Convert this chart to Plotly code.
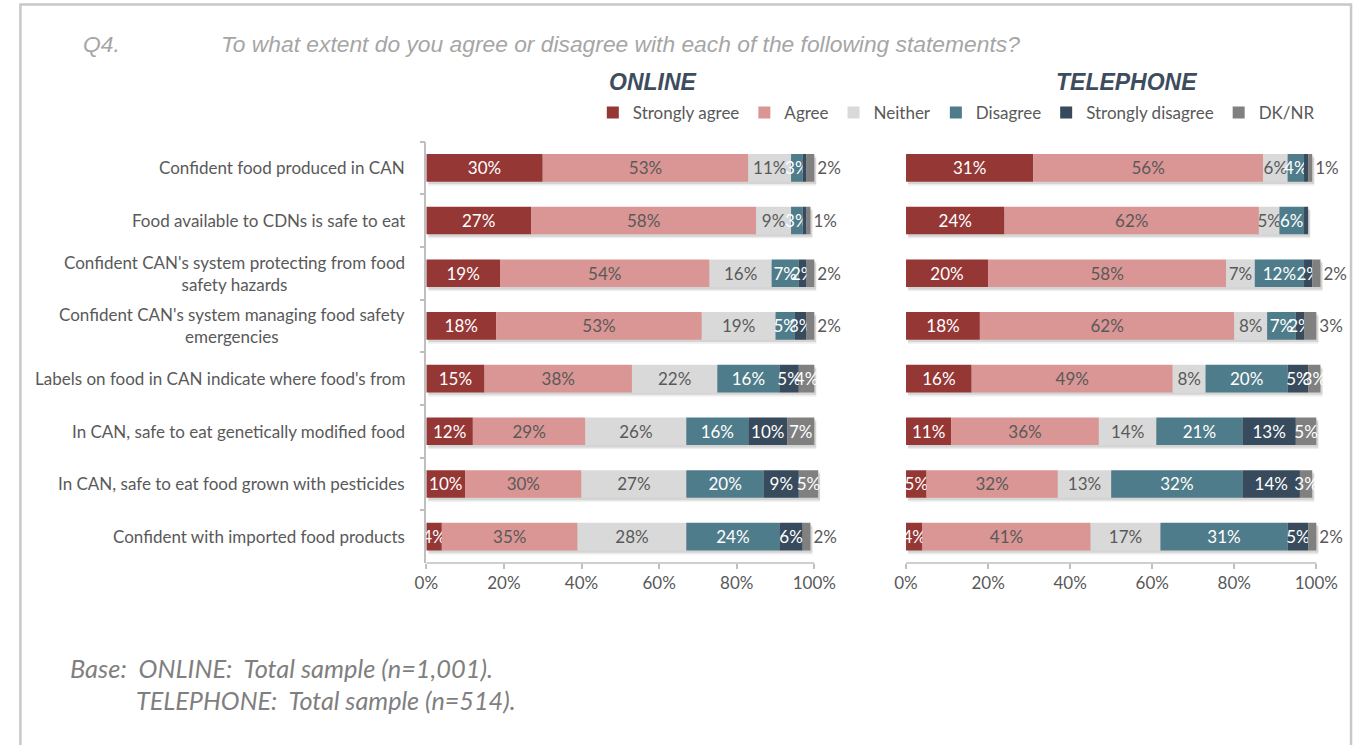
import plotly.graph_objects as go

# Survey statements (top to bottom)
statements = [
    "Confident food produced in CAN",
    "Food available to CDNs is safe to eat",
    "Confident CAN's system protecting from food<br>safety hazards",
    "Confident CAN's system managing food safety<br>emergencies",
    "Labels on food in CAN indicate where food's from",
    "In CAN, safe to eat genetically modified food",
    "In CAN, safe to eat food grown with pesticides",
    "Confident with imported food products",
]

responses = ["Strongly agree", "Agree", "Neither", "Disagree", "Strongly disagree", "DK/NR"]

# ONLINE sample (%)
online_strongly_agree = [30, 27, 19, 18, 15, 12, 10, 4]
online_agree = [53, 58, 54, 53, 38, 29, 30, 35]
online_neither = [11, 9, 16, 19, 22, 26, 27, 28]
online_disagree = [3, 3, 7, 5, 16, 16, 20, 24]
online_strongly_disagree = [1, 1, 2, 3, 5, 10, 9, 6]
online_dknr = [2, 1, 2, 2, 4, 7, 5, 2]

# TELEPHONE sample (%)
phone_strongly_agree = [31, 24, 20, 18, 16, 11, 5, 4]
phone_agree = [56, 62, 58, 62, 49, 36, 32, 41]
phone_neither = [6, 5, 7, 8, 8, 14, 13, 17]
phone_disagree = [4, 6, 12, 7, 20, 21, 32, 31]
phone_strongly_disagree = [1, 1, 2, 2, 5, 13, 14, 5]
phone_dknr = [1, 0, 2, 3, 3, 5, 3, 2]

x_ticks = [0, 20, 40, 60, 80, 100]
x_tick_text = ["0%", "20%", "40%", "60%", "80%", "100%"]

# DK/NR labels written beside the bar end instead of inside it
online_dk_beside = [True, True, True, True, False, False, False, True]
phone_dk_beside = [True, False, True, True, False, False, False, True]

colors = ["#953735", "#d99694", "#d9d9d9", "#4f7c8a", "#374b5c", "#808080"]
label_colors = ["#ffffff", "#595959", "#595959", "#ffffff", "#ffffff", "#ffffff"]

FONT = "Lato"
GREY_TEXT = "#595959"
AXIS_GREY = "#bfbfbf"
BAR_W = 0.525
LABEL_SIZE = 17
X_MAX = 108  # axis runs a little past 100% so labels beside the bars stay in view

W, H = 1355, 745


def px_x(p):
    return p / W


def px_y(p):
    return 1 - p / H


def x_domain(left_px, right100_px):
    # place 0% and 100% at the given pixels; the range continues to X_MAX
    span = (right100_px - left_px) * X_MAX / 100
    return [px_x(left_px), min(1.0, px_x(left_px + span))]


fig = go.Figure()


def add_panel(series, dk_beside, xa, ya, legend):
    n = len(statements)
    totals = [sum(s[i] for s in series) for i in range(n)]
    # soft drop shadow behind each stacked bar
    for dy, alpha in [(0.075, 0.07), (0.045, 0.10)]:
        fig.add_trace(go.Bar(
            y=statements, x=totals, base=[0.5] * n, orientation="h",
            width=BAR_W, offset=-BAR_W / 2 + dy,
            marker=dict(color=f"rgba(0,0,0,{alpha})", line=dict(width=0)),
            hoverinfo="skip", showlegend=False, xaxis=xa, yaxis=ya,
        ))
    base = [0] * n
    for k, (name, vals) in enumerate(zip(responses, series)):
        is_dk = k == len(series) - 1
        texts = []
        positions = []
        for i, v in enumerate(vals):
            if is_dk:
                texts.append(f"{v}%" if v > 0 else "")
                positions.append("outside" if dk_beside[i] else "inside")
            else:
                texts.append(f"{v}%" if v > 1 else "")
                positions.append("inside")
        fig.add_trace(go.Bar(
            y=statements, x=vals, base=list(base), orientation="h",
            name=name, width=BAR_W,
            marker=dict(color=colors[k], line=dict(width=0)),
            text=texts, textposition=positions, textangle=0,
            insidetextanchor="middle", constraintext="none", cliponaxis=False,
            insidetextfont=dict(family=FONT, size=LABEL_SIZE, color=label_colors[k]),
            outsidetextfont=dict(family=FONT, size=LABEL_SIZE, color=GREY_TEXT),
            showlegend=legend, xaxis=xa, yaxis=ya,
            hovertemplate="%{y}: %{x}%<extra>" + name + "</extra>",
        ))
        base = [b + v for b, v in zip(base, vals)]


add_panel([online_strongly_agree, online_agree, online_neither, online_disagree,
           online_strongly_disagree, online_dknr], online_dk_beside, "x", "y", True)
add_panel([phone_strongly_agree, phone_agree, phone_neither, phone_disagree,
           phone_strongly_disagree, phone_dknr], phone_dk_beside, "x2", "y2", False)

Y_TOP, Y_BOTTOM = 141.5, 563
plot_y = [px_y(Y_BOTTOM), px_y(Y_TOP)]

xaxis_common = dict(
    range=[0, X_MAX], tickmode="array", tickvals=x_ticks, ticktext=x_tick_text,
    showgrid=False, zeroline=False, showline=False, ticks="outside", ticklen=5,
    tickcolor=AXIS_GREY, tickwidth=1.5,
    tickfont=dict(family=FONT, size=LABEL_SIZE, color=GREY_TEXT),
    fixedrange=True,
)

fig.update_layout(
    width=W, height=H,
    margin=dict(l=0, r=0, t=0, b=0),
    paper_bgcolor="white", plot_bgcolor="white",
    barmode="overlay",
    uniformtext=dict(minsize=LABEL_SIZE, mode="show"),
    font=dict(family=FONT, color=GREY_TEXT),
    xaxis=dict(domain=x_domain(418, 809.5), anchor="y", **xaxis_common),
    xaxis2=dict(domain=x_domain(902, 1316), anchor="y2", **xaxis_common),
    yaxis=dict(domain=plot_y, anchor="x", autorange="reversed", type="category",
               showline=True, linecolor=AXIS_GREY, linewidth=1.5, ticks="outside",
               ticklen=5, tickcolor=AXIS_GREY, tickwidth=1.5, tickson="boundaries",
               showticklabels=False, showgrid=False, fixedrange=True),
    yaxis2=dict(domain=plot_y, anchor="x2", autorange="reversed", type="category",
                showline=False, ticks="", showticklabels=False, showgrid=False,
                fixedrange=True),
    legend=dict(
        orientation="h", x=px_x(586), y=px_y(95), xanchor="left", yanchor="top",
        font=dict(family=FONT, size=LABEL_SIZE, color=GREY_TEXT),
        itemwidth=30, traceorder="normal", bgcolor="rgba(0,0,0,0)",
    ),
    showlegend=True,
)

# baseline of each percentage axis, from 0% to 100%
for xa in ["x", "x2"]:
    fig.add_shape(type="line", xref=xa, yref="paper", x0=x_ticks[0], x1=x_ticks[-1],
                  y0=px_y(Y_BOTTOM), y1=px_y(Y_BOTTOM),
                  line=dict(color=AXIS_GREY, width=1.5), layer="above")

annotations = []
# statement labels, right-aligned against the online axis
for s in statements:
    annotations.append(dict(
        x=px_x(399), xref="paper", xanchor="right", y=s, yref="y",
        text=s, showarrow=False, align="center",
        font=dict(family=FONT, size=LABEL_SIZE, color=GREY_TEXT),
    ))

annotations += [
    dict(x=px_x(70), y=px_y(44), xref="paper", yref="paper", xanchor="left", yanchor="middle",
         text="<i>Q4.</i>", showarrow=False,
         font=dict(family="Liberation Sans", size=22.8, color="#a6a6a6")),
    dict(x=px_x(209), y=px_y(44), xref="paper", yref="paper", xanchor="left", yanchor="middle",
         text="<i>To what extent do you agree or disagree with each of the following statements?</i>",
         showarrow=False, font=dict(family="Liberation Sans", size=22.8, color="#a6a6a6")),
    dict(x=px_x(647), y=px_y(82), xref="paper", yref="paper", xanchor="center", yanchor="middle",
         text="<b><i>ONLINE</i></b>", showarrow=False,
         font=dict(family="Liberation Sans", size=23, color="#3d4d5e")),
    dict(x=px_x(1124), y=px_y(82), xref="paper", yref="paper", xanchor="center", yanchor="middle",
         text="<b><i>TELEPHONE</i></b>", showarrow=False,
         font=dict(family="Liberation Sans", size=23, color="#3d4d5e")),
    dict(x=px_x(56), y=px_y(668), xref="paper", yref="paper", xanchor="left", yanchor="middle",
         text="<i>Base:&nbsp; ONLINE:&nbsp; Total sample (n=1,001).</i>", showarrow=False,
         font=dict(family=FONT, size=25.4, color="#7f7f7f")),
    dict(x=px_x(123), y=px_y(700), xref="paper", yref="paper", xanchor="left", yanchor="middle",
         text="<i>TELEPHONE:&nbsp; Total sample (n=514).</i>", showarrow=False,
         font=dict(family=FONT, size=25.2, color="#7f7f7f")),
]
fig.update_layout(annotations=annotations)

# page frame (continues past the bottom edge)
fig.add_shape(type="rect", xref="paper", yref="paper",
              x0=px_x(8.5), x1=px_x(1351), y0=-0.02, y1=px_y(4.5),
              line=dict(color="#c8c8c8", width=2.5), fillcolor="rgba(0,0,0,0)", layer="below")

fig.write_html("out.html", config={"responsive": False})
